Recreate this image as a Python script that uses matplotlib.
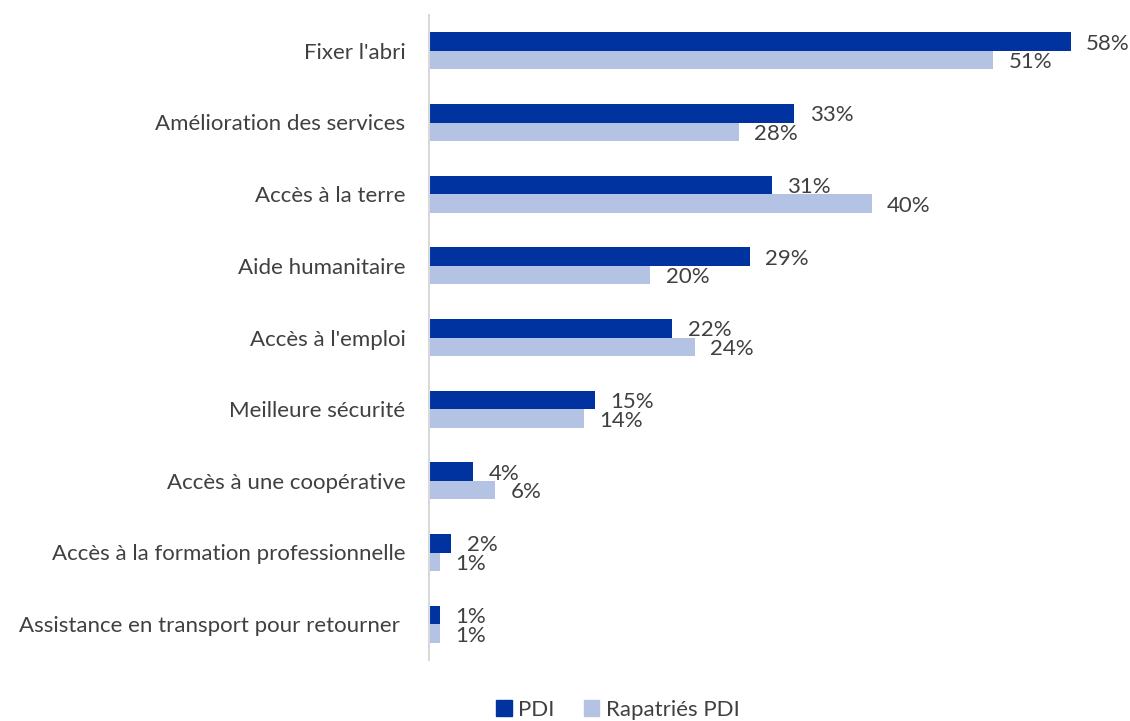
import matplotlib
matplotlib.use("Agg")
import matplotlib.pyplot as plt
from matplotlib.patches import Patch

categories = ["Fixer l'abri", "Amélioration des services", "Accès à la terre",
              "Aide humanitaire", "Accès à l'emploi", "Meilleure sécurité",
              "Accès à une coopérative", "Accès à la formation professionnelle",
              "Assistance en transport pour retourner "]
pdi = [58, 33, 31, 29, 22, 15, 4, 2, 1]
rapatries = [51, 28, 40, 20, 24, 14, 6, 1, 1]
series_names = ["PDI", "Rapatriés PDI"]

c_dark = "#0033A0"
c_light = "#B4C3E4"
txt = "#404040"
plt.rcParams['font.family'] = ['Lato', 'DejaVu Sans']

fig = plt.figure(figsize=(11.30, 7.21), dpi=100)
ax = fig.add_axes([429/1130, 61/721, 697/1130, 645/721])

h = 0.26
fs = 16
y = list(range(len(categories)))
ax.barh([i - h/2 for i in y], pdi, height=h, color=c_dark)
ax.barh([i + h/2 for i in y], rapatries, height=h, color=c_light)
for i in y:
    ax.text(pdi[i] + 1.4, i - h/2 + 0.03, f"{pdi[i]}%", va="center", ha="left", fontsize=fs, color=txt)
    ax.text(rapatries[i] + 1.4, i + h/2 + 0.03, f"{rapatries[i]}%", va="center", ha="left", fontsize=fs, color=txt)

ax.set_xlim(0, 63)
ax.set_ylim(len(categories) - 0.5, -0.5)
ax.set_yticks(y)
ax.set_yticklabels(categories, fontsize=fs, color=txt)
ax.tick_params(axis='y', length=0, pad=17)
ax.set_xticks([])
for s in ["top", "right", "bottom"]:
    ax.spines[s].set_visible(False)
ax.spines["left"].set_color("#D9D9D9")
ax.spines["left"].set_linewidth(1.5)

handles = [Patch(color=c_dark, label=series_names[0]), Patch(color=c_light, label=series_names[1])]
fig.legend(handles=handles, loc="center", bbox_to_anchor=(618/1130, 1 - 710/721), ncol=2,
           frameon=False, fontsize=fs, handlelength=0.7, handleheight=0.7,
           handletextpad=0.3, columnspacing=1.3, labelcolor=txt)

fig.savefig("out.png", dpi=100)
